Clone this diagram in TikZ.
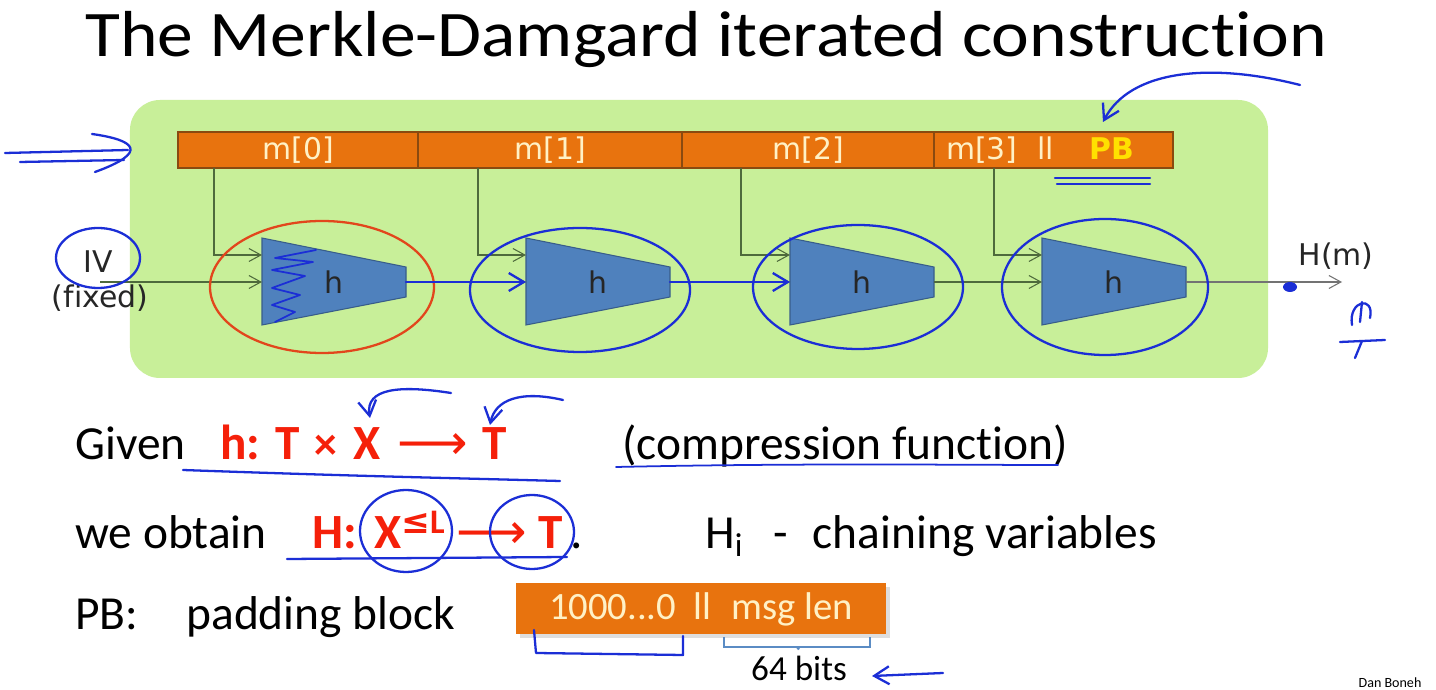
\documentclass[tikz,border=0pt]{standalone}
\usepackage{fontspec}
\setmainfont{Carlito}[Ligatures=NoCommon]
\newfontfamily\boxfont{DejaVu Sans}[Ligatures=NoCommon]
\usetikzlibrary{arrows.meta,positioning,calc,shadows}
\definecolor{MDGreen}{HTML}{C8EF99}
\definecolor{MDOrange}{HTML}{E8730E}
\definecolor{MDOrangeEdge}{HTML}{8A4A10}
\definecolor{MDCream}{HTML}{FFF1C6}
\definecolor{MDYellow}{HTML}{FFE100}
\definecolor{MDBlueFill}{HTML}{4F81BD}
\definecolor{MDBlueEdge}{HTML}{385D8A}
\definecolor{MDWire}{HTML}{4E6A3C}
\definecolor{MDPen}{HTML}{1B2ED6}
\definecolor{MDPenRed}{HTML}{E2461C}
\definecolor{MDRed}{HTML}{F5200A}
\definecolor{MDBrace}{HTML}{5B8CC4}
\newcommand\longto{{\boxfont\mdseries ⟶}}
\tikzset{
  block/.style={draw=MDOrangeEdge,line width=0.6pt,fill=MDOrange,text=MDCream,
                font=\boxfont\fontsize{17}{20}\selectfont,minimum height=7.2mm,inner sep=0pt},
  wire/.style={-{Straight Barb[length=2.4mm,width=2.6mm]},MDWire,line width=0.6pt},
  comp/.style={draw=MDBlueEdge,line width=0.6pt,fill=MDBlueFill},
  diag/.style={font=\boxfont\fontsize{17}{20}\selectfont,text=black!85},
  pen/.style={MDPen,line width=1.3pt,line cap=round,line join=round},
  penred/.style={pen,MDPenRed},
  pentip/.style={pen,-{Straight Barb[length=3mm,width=3.6mm]}},
  body/.style={font=\fontsize{27}{32}\selectfont,anchor=base west,inner sep=0pt},
  formula/.style={body,text=MDRed,font=\fontsize{28}{32}\selectfont\bfseries},
  padbox/.style={fill=MDOrange,text=MDCream,font=\fontsize{22}{26}\selectfont,inner sep=0pt,
                 drop shadow={shadow xshift=0.8mm,shadow yshift=-0.8mm,fill=black!25}},
  bracket/.style={MDBrace,line width=1.3pt},
}
\begin{document}
\begin{tikzpicture}[x=0.2mm,y=-0.2mm]
  \useasboundingbox (0,0) rectangle (1436,690);
  \fill[white] (0,0) rectangle (1436,690);
  \node[font=\fontsize{37}{40}\selectfont,anchor=base,inner sep=0pt] (title) at (706,57)
    {\scalebox{1.1}[1]{The Merkle-Damgard iterated construction}};

  % the iterated chain
  \node[fill=MDGreen,rounded corners=6mm,minimum width=227.6mm,minimum height=55.6mm] (frame) at (699,239) {};
  \node[block,minimum width=48mm] (m0) at (298,150) {m[0]};
  \node[block,minimum width=52.8mm] (m1) at (550,150) {m[1]};
  \node[block,minimum width=50.4mm] (m2) at (808,150) {m[2]};
  \node[block,minimum width=47.8mm] (m3) at (1053.5,150) {};
  \node[block,draw=none,fill=none] (m3txt) at (1040,150)
    {m[3]\hspace{4mm}ll\hspace{7mm}\textcolor{MDYellow}{\bfseries PB}};

  \foreach \i/\lx/\tx in {1/262/214,2/526/478,3/790/741,4/1042/994} {
    \draw[comp] (\lx,238) -- ++(144,29) -- ++(0,30) -- (\lx,325) -- cycle;
    \node[diag] (h\i) at (\lx+72,282) {h};
    \coordinate (h\i-msg) at (\lx,255);
    \coordinate (h\i-in) at (\lx,282);
    \coordinate (h\i-out) at (\lx+144,282);
    \coordinate (tap\i) at (\tx,168);
  }
  \foreach \i in {1,...,4}
    \draw[wire] (tap\i) |- (h\i-msg);

  \node[diag] (iv) at (98,262) {IV};
  \node[diag] (fixed) at (100,298) {(fixed)};
  \coordinate (ivtail) at (100,282);
  \coordinate (hout) at (1342,282);
  \draw[wire] (ivtail) -- (h1-in);
  \draw[wire] (h1-out) -- (h2-in);
  \draw[wire] (h2-out) -- (h3-in);
  \draw[wire] (h3-out) -- (h4-in);
  \draw[wire,black!55] (h4-out) -- (hout);
  \node[diag] (hm) at (1336,256) {H(m)};

  % pen marks on the chain
  \draw[penred] (322,287) ellipse [x radius=112,y radius=66];
  \draw[pen] (580,290) ellipse [x radius=110,y radius=62];
  \draw[pen] (858,287) ellipse [x radius=105,y radius=62];
  \draw[pen] (1105,287) ellipse [x radius=103,y radius=68];
  \draw[pen] (98,258) ellipse [x radius=42,y radius=30];
  \draw[pentip] (h1-out) -- (h2-in);
  \draw[pentip] (h2-out) -- (h3-in);
  \draw[pen,line width=1pt] (316,250) -- (275,258) -- (313,262) -- (272,270) -- (305,276)
    -- (272,288) -- (300,295) -- (272,305) -- (295,312) -- (275,322);
  \draw[pen] (5,153) -- (128,150);
  \draw[pen] (20,162) -- (124,160);
  \draw[pen] (92,134) .. controls (135,140) and (150,152) .. (95,172);
  \draw[pentip] (1300,85) .. controls (1210,62) and (1130,70) .. (1103,122);
  \draw[pen] (1055,178) -- (1150,178);
  \draw[pen] (1057,184) -- (1150,184);
  \fill[MDPen] (1290,287) ellipse [x radius=7,y radius=5];
  \draw[pen] (1352,325) .. controls (1348,300) and (1375,295) .. (1370,318);
  \draw[pen] (1362,302) -- (1360,322);
  \draw[pen] (1340,342) -- (1385,340);
  \draw[pen] (1362,341) -- (1355,358);

  % the text below
  \node[body] (given) at (75,460) {Given};
  \node[formula] (hdef) at (220,460)
    {h: T \hspace{0.8mm}{\fontsize{26}{30}\selectfont ×} \hspace{1mm}X \hspace{1.2mm}\longto{} \hspace{0.6mm}T};
  \node[body] (cf) at (622,460) {(compression function)};
  \node[body] (obtain) at (75,549) {we obtain};
  \node[formula] (Hdef) at (312,549)
    {H: \hspace{1.2mm}X\textsuperscript{{\boxfont ≤}L} \longto{} T\textcolor{black}{\mdseries\hspace{1.5mm}.}};
  \node[body] (chain) at (705,549) {H\textsubscript{i}\hspace{6mm}-\hspace{5mm}chaining variables};
  \node[body] (pb) at (75,630) {PB:\hspace{9.6mm}padding block};
  \node[padbox,minimum width=74mm,minimum height=10.2mm] (pad) at (701,609)
    {1000...0\hspace{3.5mm}ll\hspace{4mm}msg len};
  \node[font=\fontsize{20}{24}\selectfont] (bits) at (799,668) {64 bits};
  \coordinate (lenL) at (724,637);
  \coordinate (lenR) at (870,637);
  \draw[bracket] (lenL) -- ++(0,10) -| (lenR);
  \draw[bracket] ($(lenL)!0.5!(lenR)+(0,10)$) -- (bits.north);
  \node[font=\fontsize{8}{9}\selectfont] (sign) at (1390,683) {Dan Boneh};

  % pen marks on the text
  \draw[pen] (183,470) .. controls (350,476) and (450,478) .. (560,481);
  \draw[pen,line width=1pt] (616,467) .. controls (800,463) and (950,465) .. (1058,465);
  \draw[pen] (287,559) -- (567,557);
  \draw[pen] (406,531) ellipse [x radius=46,y radius=41];
  \draw[pen] (532,532) ellipse [x radius=42,y radius=37];
  \draw[pentip] (451,393) .. controls (400,385) and (365,388) .. (370,418);
  \draw[pentip] (563,400) .. controls (520,390) and (495,400) .. (490,425);
  \draw[pen] (534,630) -- (536,653) -- (683,655) -- (683,636);
  \draw[pentip] (943,673) -- (872,676);
\end{tikzpicture}
\end{document}
